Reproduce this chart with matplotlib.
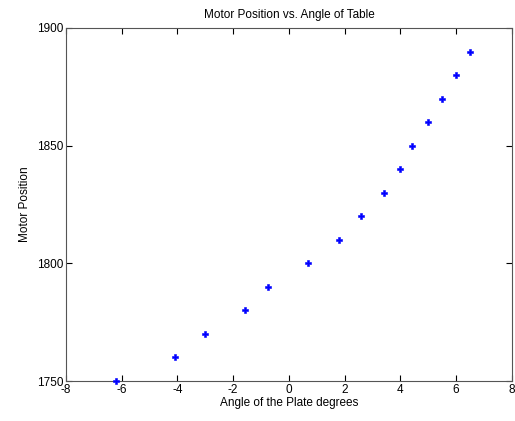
import matplotlib
matplotlib.use('Agg')
from matplotlib import pyplot as plt

# angle of plate (degrees) vs motor position
angle = [-6.2, -4.1, -3.0, -1.57, -0.75, 0.68, 1.8, 2.6, 3.4, 4.0, 4.4, 5.0, 5.5, 6.0, 6.5]
motor = [1750, 1760, 1770, 1780, 1790, 1800, 1810, 1820, 1830, 1840, 1850, 1860, 1870, 1880, 1890]

plt.rcParams['font.family'] = ['Liberation Sans', 'DejaVu Sans']
plt.rcParams['font.size'] = 8.5
plt.rcParams['axes.unicode_minus'] = False

fig = plt.figure(figsize=(5.15, 4.21), dpi=100)
ax = fig.add_axes([0.128, 0.095, 0.866, 0.8385])

ax.plot(angle, motor, linestyle='none', marker='P', markersize=4.5, color='b',
        markeredgecolor='b', markeredgewidth=0.4, clip_on=False, zorder=3)

ax.set_xlim(-8, 8)
ax.set_ylim(1750, 1900)
ax.set_xticks(range(-8, 9, 2))
ax.set_yticks([1750, 1800, 1850, 1900])
ax.tick_params(direction='in', top=True, right=True, length=4.5, width=0.8, pad=2)
for s in ax.spines.values():
    s.set_color('#555555')

ax.set_title('Motor Position vs. Angle of Table', fontsize=8.5, pad=7)
ax.set_xlabel('Angle of the Plate degrees', labelpad=1)
ax.set_ylabel('Motor Position', labelpad=4)

fig.savefig('out.png', dpi=100)
